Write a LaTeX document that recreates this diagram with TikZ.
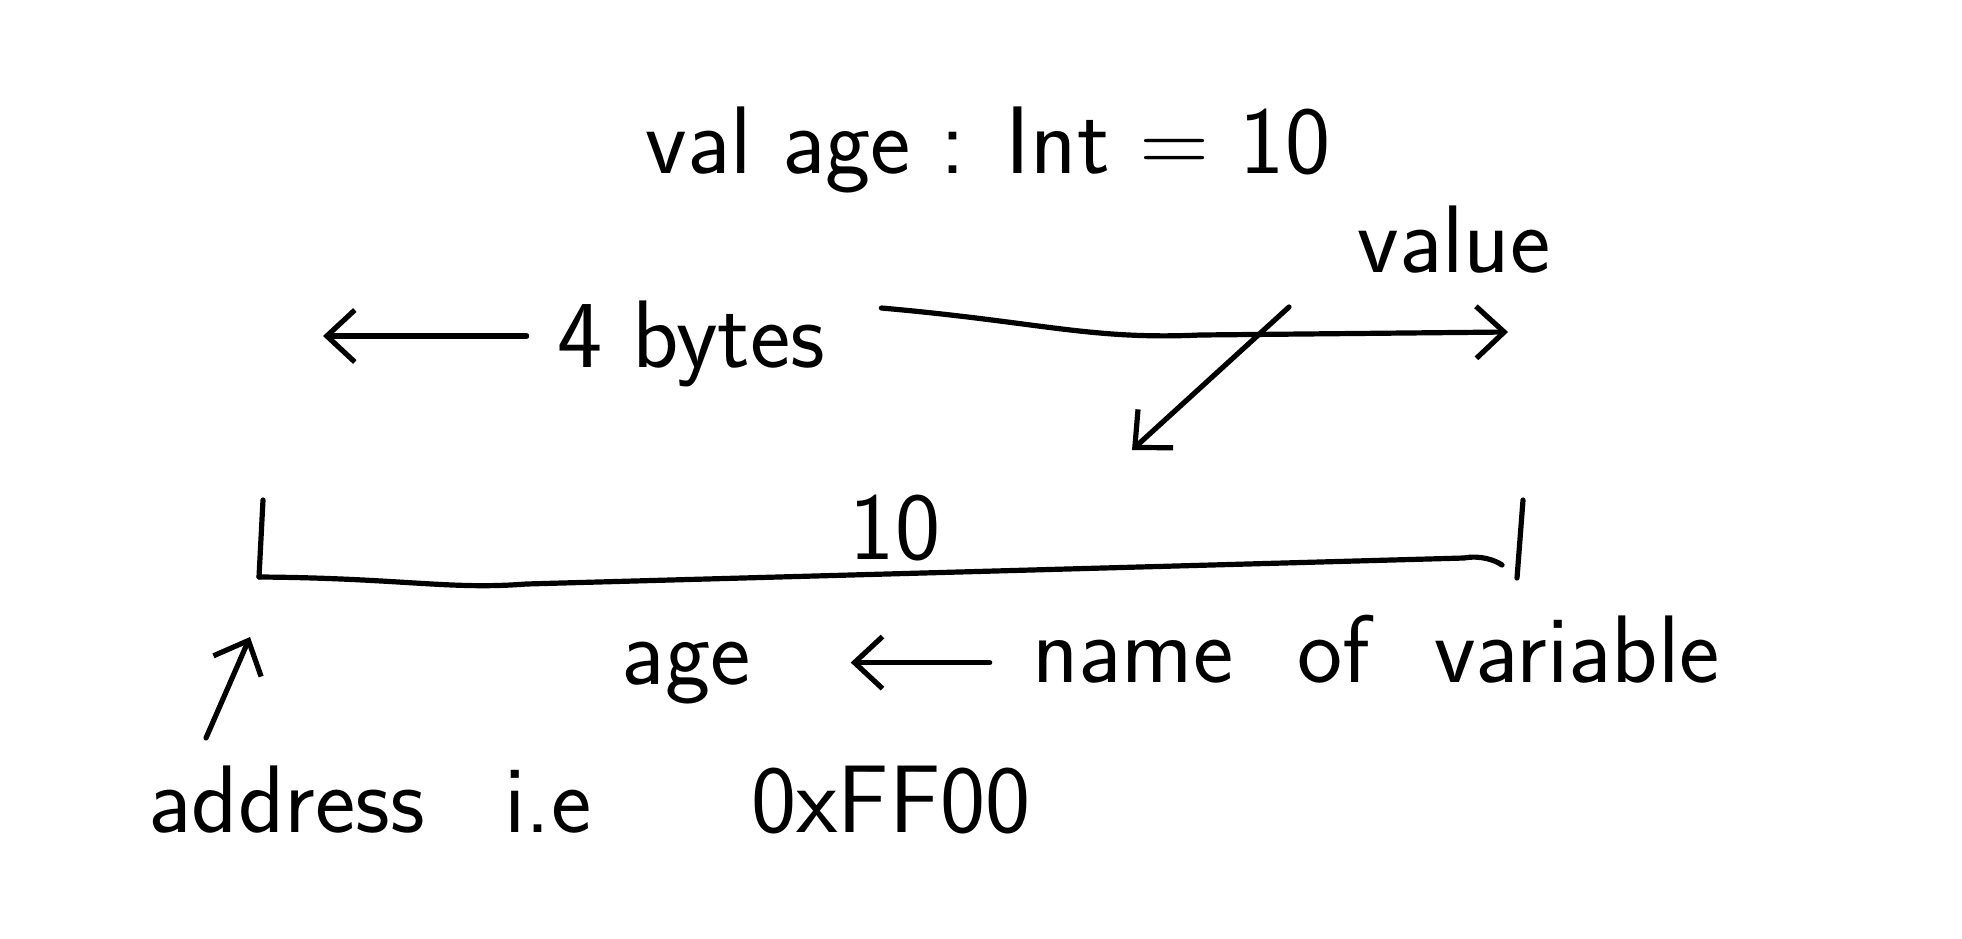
\documentclass[tikz,border=0pt]{standalone}
\usepackage{fontspec}
\usetikzlibrary{arrows.meta,positioning}
\tikzset{
  hand/.style={font=\sffamily\fontsize{48}{52}\selectfont, inner sep=0pt},
  pen/.style={line width=2.6pt, line cap=round, line join=round},
  arr/.style={pen, -{Straight Barb[length=14pt,width=26pt,line width=2.6pt]}}
}
\begin{document}
\begin{tikzpicture}[x=0.5pt,y=-0.5pt]
  \useasboundingbox (0,0) rectangle (1962,938);
  % texts
  \node[hand] (decl) at (988,150) {val age : Int = 10};
  \node[hand] (value) at (1454,240) {value};
  \node[hand] (size) at (691,344) {4 bytes};
  \node[hand] (content) at (895,528) {10};
  \node[hand, anchor=base] (name) at (686,684) {age};
  \node[hand, anchor=base] (label) at (1376,682) {name\hspace{32pt}of\hspace{32pt}variable};
  \node[hand, anchor=base west] (addr) at (148,832) {address\hspace{40pt}i.e\hspace{80pt}0xFF00};
  % memory slot
  \coordinate (slotTL) at (263,500);
  \coordinate (slotBL) at (259,577);
  \coordinate (slotTR) at (1523,500);
  \coordinate (slotBR) at (1517,578);
  \coordinate (leftend) at (323,336);
  \coordinate (rightend) at (1508,332);
  \coordinate (valuetail) at (1289,307);
  \coordinate (valueptr) at (1132,450);
  \coordinate (addrtail) at (206,738);
  \draw[pen] (slotTL) -- (slotBL);
  \draw[pen] (slotTR) -- (slotBR);
  \draw[pen] (slotBL) .. controls (400,578) and (450,590) .. (526,584)
    -- (1464,558) .. controls (1480,555) and (1495,560) .. (1502,565);
  % arrows
  \draw[arr, shorten <=15pt] (size.west |- leftend) -- (leftend);
  \draw[arr] ([shift={(28pt,18pt)}]size.east) .. controls (1040,322) and (1090,340) .. (1200,335) -- (rightend);
  \draw[arr] (valuetail) -- (valueptr);
  \draw[arr] ([shift={(-21pt,5pt)}]label.west |- name.east) -- ([shift={(50pt,5pt)}]name.east);
  \draw[arr] (addrtail) -- ([shift={(-4.5pt,-30pt)}]slotBL);
\end{tikzpicture}
\end{document}
